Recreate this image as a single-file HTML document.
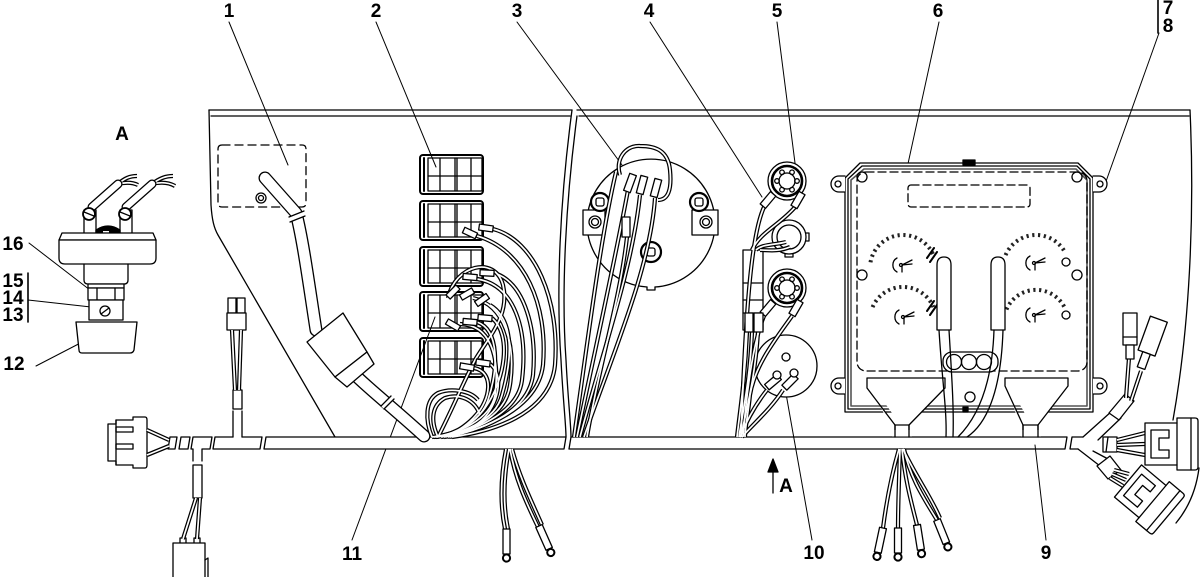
<!DOCTYPE html>
<html><head><meta charset="utf-8">
<style>
html,body{margin:0;padding:0;background:#fff}
svg{display:block}
text{font-family:"Liberation Sans",Arial,sans-serif;font-weight:bold;font-size:19px;fill:#000}
.wb{stroke:#000;stroke-width:4.2;fill:none;stroke-linecap:butt}
.ww{stroke:#fff;stroke-width:1.7;fill:none;stroke-linecap:butt}
.tb{stroke:#000;stroke-width:13;fill:none}
.tw{stroke:#fff;stroke-width:10.4;fill:none}
</style></head><body>
<svg width="1200" height="577" viewBox="0 0 1200 577" xmlns="http://www.w3.org/2000/svg">
<defs>
  <g id="wires">
    <!-- switch block fan -->
    <path d="M493,229 C535,240 560,300 555,365 C550,415 490,432 452,437"/>
    <path d="M477,236 C525,250 548,305 543,365 C538,410 480,430 448,437"/>
    <path d="M497,274 C525,285 537,330 533,375 C528,415 475,432 444,437"/>
    <path d="M477,279 C515,285 528,330 522,380 C518,415 470,432 441,437"/>
    <path d="M448,298 C455,265 495,255 503,285 C510,315 490,335 475,360 C462,385 452,410 438,437"/>
    <path d="M473,298 C505,305 516,345 510,385 C505,420 465,433 436,437"/>
    <path d="M490,305 C515,320 512,360 502,395 C495,422 460,434 434,437"/>
    <path d="M460,324 C490,325 500,355 495,395 C490,420 458,434 432,437"/>
    <path d="M477,322 C500,330 498,370 488,400 C480,424 452,434 437,437"/>
    <path d="M492,318 C512,335 505,380 485,408 C472,426 450,434 442,437"/>
    <path d="M474,368 C495,372 490,400 476,415 C466,427 452,434 446,437"/>
    <path d="M490,364 C505,375 498,405 482,420 C470,430 458,435 450,437"/>
    <path d="M432,437 C425,420 425,400 438,393 C450,388 470,390 478,400"/>
    <path d="M438,437 C430,420 432,405 445,398 C460,393 475,400 480,415"/>
    <!-- gauge 3 -->
    <path d="M620,175 C615,160 625,145 640,146 C655,146 668,150 670,170 C672,190 668,200 658,200"/>
    <path d="M616,172 C600,240 588,340 574,437"/>
    <path d="M628,190 C615,260 595,350 577,437"/>
    <path d="M640,195 C632,270 603,350 580,437"/>
    <path d="M655,198 C650,270 612,355 584,437"/>
    <path d="M627,237 C620,300 598,370 587,437"/>
    <!-- items 4/5/10 -->
    <path d="M765,205 C752,230 746,300 741,437"/>
    <path d="M796,206 C780,225 760,232 752,250"/>
    <path d="M786,242 C775,245 762,244 756,250"/>
    <path d="M790,247 C778,252 768,250 760,250"/>
    <path d="M747,332 C745,380 740,410 737,437"/>
    <path d="M752,332 C750,380 743,410 739,437"/>
    <path d="M758,332 C755,380 746,410 741,437"/>
    <path d="M764,316 C752,345 746,400 743,437"/>
    <path d="M792,316 C775,340 755,365 750,395 C748,415 745,428 745,437"/>
    <path d="M767,390 C755,405 747,420 740,437"/>
    <path d="M783,390 C770,410 752,425 742,437"/>
    <!-- bottom left probes -->
    <path d="M506,449 C500,480 500,505 505,529"/>
    <path d="M509,449 C503,480 503,505 508,529"/>
    <path d="M510,449 C515,478 525,500 538,527"/>
    <path d="M512,449 C520,478 530,498 542,525"/>
    <!-- bottom right probes -->
    <path d="M899,449 C890,480 886,505 883,528"/>
    <path d="M900,449 C899,480 898,505 898,528"/>
    <path d="M902,449 C905,480 912,505 917,525"/>
    <path d="M904,449 C910,478 925,500 937,520"/>
    <path d="M903,449 C915,475 930,495 940,518"/>
    <!-- left side -->
    <path d="M147,430 L169,440"/>
    <path d="M147,455 L169,446"/>
    <path d="M232,330 L235,390"/>
    <path d="M241,330 L239,390"/>
    <path d="M196,498 L183,539"/>
    <path d="M200,498 L197,539"/>
    <!-- right connectors -->
    <path d="M1126,398 L1129,358"/>
    <path d="M1131,401 L1141,371"/>
    <path d="M1117,440 L1145,433"/>
    <path d="M1117,445 L1145,444"/>
    <path d="M1117,450 L1145,455"/>
    <path d="M1114,470 L1129,474"/>
    <path d="M1112,474 L1126,480"/>
    <path d="M1110,478 L1123,486"/>
    <!-- detail A wires -->
    <path d="M118,184 C125,178 130,176 137,176"/>
    <path d="M118,184 C126,182 132,182 138,185"/>
    <path d="M152,184 C160,178 166,176 173,176"/>
    <path d="M152,184 C160,182 168,182 175,186"/>
  </g>
  <g id="conn">
    <path d="M0,-21 H32 V-26 H50 Q53,-26 53,-23 V23 Q53,26 50,26 H32 V21 H0 Z" fill="#fff"/>
    <path d="M32,-21 V21 M46,-26 V26"/>
    <path d="M6,-14 H24 V-6 H14 V6 H24 V14 H6 Z" fill="#fff"/>
  </g>
  <g id="probe">
    <rect x="-3.5" y="0" width="7" height="25" fill="#fff"/>
    <circle cx="0" cy="29" r="3.6" fill="#fff" stroke-width="2"/>
  </g>
  <g id="sock">
    <circle r="19" fill="#fff"/>
    <circle r="15" stroke-width="2.6"/>
    <circle r="8"/>
    <circle cx="10" cy="0" r="2.3"/><circle cx="-10" cy="0" r="2.3"/>
    <circle cx="5" cy="8.7" r="2.3"/><circle cx="-5" cy="8.7" r="2.3"/>
    <circle cx="5" cy="-8.7" r="2.3"/><circle cx="-5" cy="-8.7" r="2.3"/>
  </g>
  <g id="blk">
    <rect x="420" y="0" width="63" height="39" rx="3" stroke-width="2"/>
    <path d="M424,3 V36" stroke-width="2"/>
    <rect x="428" y="3" width="54" height="33"/>
    <path d="M440,3 V36 M455,3 V36 M457,3 V36 M471,3 V36 M428,21 H482"/>
  </g>
  <g id="needle">
    <path d="M-3,-7 A8,8 0 0 0 -3,7"/>
    <path d="M2,0 L12,-5 M2,0 L12,-1 M2,0 V7"/>
    <circle cx="1" cy="0" r="1.5"/>
  </g>
</defs>

<rect width="1200" height="577" fill="#fff"/>

<g fill="none" stroke="#000" stroke-width="1.3" stroke-linejoin="round" stroke-linecap="round">
  <!-- leaders -->
  <g stroke-width="1">
    <path d="M229,22 L288,165"/>
    <path d="M376,22 L436,167"/>
    <path d="M517,22 L622,165"/>
    <path d="M650,22 L762,197"/>
    <path d="M777,22 L795,163"/>
    <path d="M939,22 L904,182"/>
    <path d="M1159,33 L1104,187"/>
    <path d="M1158,0 V33" stroke-width="1.6"/>
    <path d="M352,540 L435,317"/>
    <path d="M812,540 L785,388"/>
    <path d="M1046,540 L1035,445"/>
    <path d="M29,243 L90,290"/>
    <path d="M28,300 L100,308"/>
    <path d="M36,366 L92,337"/>
    <path d="M28,273 V322" stroke-width="1.6"/>
  </g>

  <!-- panels -->
  <path d="M209,110 H572 M211,116 H570 M577,110 H1190 M579,116 H1189"/>
  <path d="M209,110 L211,205 C212,220 214,228 218,235 L335,437"/>
  <path d="M572,110 C560,200 556,290 561,360 C563,400 566,425 566,437"/>
  <path d="M577,116 C566,200 561,290 566,360 C568,400 571,425 571,437"/>
  <path d="M1190,110 C1195,220 1189,330 1173,420"/>
  <path d="M1199,468 Q1195,500 1176,523"/>

  <!-- trunk -->
  <path d="M215,437 H233 M242,437 H262 L260,449 H213 L215,437"/>
  <path d="M266,437 H566 L564,449 H264 Z" fill="#fff"/>
  <path d="M571,437 H1083 M569,449 H1078 M571,437 L569,449"/>
  <polygon points="1067,436 1072,436 1070,450 1065,450" fill="#fff" stroke="none"/>
  <path d="M1067,437 L1065,449 M1072,437 L1070,449"/>
  <polygon points="170,437 177,437 175,449 168,449" fill="#fff"/>
  <polygon points="181,437 190,437 188,449 179,449" fill="#fff"/>
  <path d="M193,437 H212 L210,449 H202 V461 M193,461 V449 H191 L193,437"/>
  <!-- lower-left branch -->
  <rect x="193" y="465" width="9" height="33" fill="#fff"/>
  <rect x="180" y="538" width="6" height="6" fill="#fff"/>
  <rect x="194" y="538" width="6" height="6" fill="#fff"/>
  <rect x="173" y="543" width="32" height="40" fill="#fff"/>
  <path d="M205,560 L208,558 V577"/>
  <!-- upper-left small connector -->
  <path d="M233,437 V411 M242,437 V411"/>
  <rect x="233" y="390" width="9" height="19" fill="#fff"/>
  <rect x="228" y="298" width="8" height="15" fill="#fff"/>
  <rect x="237" y="298" width="8" height="15" fill="#fff"/>
  <rect x="227" y="313" width="19" height="17" fill="#fff"/>
  <!-- left connector -->
  <path d="M116,420 H133 V417 H145 Q147,417 147,420 V465 Q147,468 145,468 H133 V465 H116 V461 H108 V424 H116 Z" fill="#fff"/>
  <rect x="116" y="427" width="17" height="5"/>
  <rect x="116" y="444" width="17" height="5"/>
  <path d="M116,420 V465"/>

  <!-- item 1 -->
  <path d="M222,145 H302 Q306,145 306,149 V203 Q306,207 302,207 H222 Q218,207 218,203 V149 Q218,145 222,145 Z" stroke-dasharray="8 5"/>
  <circle cx="261" cy="198" r="5"/><circle cx="261" cy="198" r="2.5"/>
  <path class="tb" d="M265,178 L296,213 C303,240 309,285 316,330 M352,372 C370,390 390,405 424,436" stroke-linecap="round"/>
  <path class="tw" d="M265,178 L296,213 C303,240 309,285 316,330 M352,372 C370,390 390,405 424,436" stroke-linecap="round"/>
  <polygon points="289,217 304,211 305,216 290,222" fill="#fff" stroke="none"/>
  <path d="M289,217 L304,211 M290,222 L305,216"/>
  <polygon points="381,406 391,396 394,399 384,409" fill="#fff" stroke="none"/>
  <path d="M381,406 L391,396 M384,409 L394,399"/>
  <polygon points="307,342 343,313 367,352 335,377" fill="#fff"/>
  <polygon points="335,377 367,352 374,364 347,387" fill="#fff"/>

  <!-- switch blocks -->
  <use href="#blk" transform="translate(0,155)"/>
  <use href="#blk" transform="translate(0,201)"/>
  <use href="#blk" transform="translate(0,247)"/>
  <use href="#blk" transform="translate(0,292)"/>
  <use href="#blk" transform="translate(0,338)"/>

  <!-- gauge 3 -->
  <path d="M655,287 A64,64 0 1 0 647,287" fill="#fff"/>
  <path d="M647,287 V290 H655 V287"/>
  <rect x="583" y="210" width="22" height="25" fill="#fff"/>
  <circle cx="595" cy="222" r="6"/><circle cx="595" cy="222" r="3.5"/>
  <rect x="692" y="210" width="26" height="25" fill="#fff"/>
  <circle cx="706" cy="222" r="6"/><circle cx="706" cy="222" r="3.5"/>
  <circle cx="600" cy="202" r="9" stroke-width="2.2" fill="#fff"/><rect x="596" y="198" width="8" height="8" rx="2"/>
  <circle cx="699" cy="202" r="9" stroke-width="2.2" fill="#fff"/><rect x="695" y="198" width="8" height="8" rx="2"/>
  <circle cx="651" cy="252" r="10" stroke-width="2.2" fill="#fff"/><rect x="647" y="248" width="8" height="8" rx="2"/>

  <!-- sockets 4/5 and item 10 -->
  <use href="#sock" transform="translate(787,181)"/>
  <circle cx="789" cy="237" r="17" fill="#fff"/>
  <path d="M806,233 H809 V241 H806 M785,254 V257 H793 V254"/>
  <circle cx="789" cy="237" r="12"/>
  <use href="#sock" transform="translate(787,288)"/>
  <circle cx="786" cy="366" r="31" fill="#fff"/>
  <circle cx="786" cy="357" r="4"/>
  <rect x="743" y="250" width="20" height="80" fill="#fff"/>
  <path d="M743,283 H763 M743,300 H763 M743,313 H763 M753,313 V330"/>

  <!-- instrument cluster -->
  <path d="M860,163 H1078 L1093,178 V412 H845 V178 Z" fill="#fff"/>
  <path d="M862,166 H1077 L1090,179 V409 H848 V179 Z"/>
  <path d="M864,169 H1076 L1087,180 V406 H851 V180 Z" stroke="#555" stroke-width="1.6"/>
  <rect x="963" y="160" width="12" height="5" fill="#000"/>
  <g fill="#fff">
    <path d="M845,176 H839 A8,8 0 0 0 839,192 H845"/>
    <path d="M845,378 H839 A8,8 0 0 0 839,394 H845"/>
    <path d="M1093,176 H1099 A8,8 0 0 1 1099,192 H1093"/>
    <path d="M1093,378 H1099 A8,8 0 0 1 1099,394 H1093"/>
  </g>
  <circle cx="838" cy="184" r="3"/><circle cx="838" cy="386" r="3"/>
  <circle cx="1100" cy="184" r="3"/><circle cx="1100" cy="386" r="3"/>
  <circle cx="862" cy="177" r="5"/><circle cx="1077" cy="177" r="5"/>
  <circle cx="862" cy="275" r="5"/><circle cx="1077" cy="275" r="5"/>
  <rect x="857" y="172" width="230" height="199" rx="9" stroke-dasharray="8 4"/>
  <rect x="908" y="185" width="122" height="22" rx="3" stroke-dasharray="8 4"/>
  <g stroke-width="4" stroke-dasharray="2.2 3.6" stroke-linecap="butt" stroke="#222">
    <path d="M870.5,262.3 A33,33 0 0 1 932.9,254.0"/>
    <path d="M872.6,307.1 A33,33 0 0 1 933.4,307.1"/>
    <path d="M1005.6,255.1 A33,33 0 0 1 1065.4,253.0"/>
    <path d="M1006.5,309.5 A32,32 0 0 1 1065.5,309.5"/>
  </g>
  <path d="M927,258 L934,248 M930,262 L937,252" stroke-width="2"/>
  <path d="M927,311 L934,301 M930,315 L937,305" stroke-width="2"/>
  <circle cx="1066" cy="262" r="4"/><circle cx="1066" cy="315" r="4"/>
  <use href="#needle" transform="translate(900,265)"/>
  <use href="#needle" transform="translate(1033,263)"/>
  <use href="#needle" transform="translate(902,317)"/>
  <use href="#needle" transform="translate(1033,315)"/>
  <rect x="943" y="352" width="55" height="20" rx="9" fill="#fff"/>
  <circle cx="954" cy="362" r="7.5"/><circle cx="969" cy="362" r="7.5"/><circle cx="984" cy="362" r="7.5"/>
  <!-- trapezoids -->
  <path d="M867,378 H945 V388 L909,425 V437 M867,378 V388 L895,425 V437" fill="#fff"/>
  <path d="M895,425 H909"/>
  <path d="M1005,378 H1068 V386 L1038,425 V437 M1005,378 V386 L1023,425 V437" fill="#fff"/>
  <path d="M1023,425 H1038"/>
  <rect x="892" y="430" width="20" height="6.4" fill="#fff" stroke="none"/>
  <rect x="1021" y="430" width="20" height="6.4" fill="#fff" stroke="none"/>
  <path d="M895,425 V437 M909,425 V437 M1023,425 V437 M1038,425 V437"/>
  <circle cx="970" cy="397" r="5"/><rect x="963" y="407" width="5" height="5" fill="#000"/>
  <!-- probes -->
  <path d="M937,330 V265 Q937,257 944,257 Q951,257 951,265 V330 Z" fill="#fff"/>
  <path d="M991,330 V265 Q991,257 998,257 Q1005,257 1005,265 V330 Z" fill="#fff"/>
  <path d="M939,330 C942,380 947,410 946,437 M949,330 C952,380 954,410 953,437"/>
  <path d="M994,330 C992,390 975,420 958,437 M1003,330 C1001,395 985,425 967,437"/>

  <!-- right end connectors -->
  <path d="M1083,437 L1112,411 M1098,440 L1121,418 M1078,449 L1100,466 M1093,451 L1110,460"/>
  <polygon points="1109,413 1125,394 1134,401 1119,420" fill="#fff"/>
  <rect x="1103" y="437" width="14" height="15" fill="#fff"/>
  <path d="M1108,437 L1106,452"/>
  <polygon points="1097,466 1110,456 1121,470 1108,479" fill="#fff"/>

  <!-- all double wires -->
  <use href="#wires" class="wb"/>
  <use href="#wires" class="ww"/>

  <!-- sleeves over wires: switch blocks -->
  <g fill="#fff">
    <rect x="-7" y="-3" width="14" height="6" transform="translate(470,233) rotate(25)"/>
    <rect x="-7" y="-3" width="14" height="6" transform="translate(486,228) rotate(8)"/>
    <rect x="-7" y="-3" width="14" height="6" transform="translate(470,277) rotate(5)"/>
    <rect x="-7" y="-3" width="14" height="6" transform="translate(487,273) rotate(3)"/>
    <rect x="-7" y="-3" width="14" height="6" transform="translate(453,292) rotate(-45)"/>
    <rect x="-7" y="-3" width="14" height="6" transform="translate(467,294) rotate(-30)"/>
    <rect x="-7" y="-3" width="14" height="6" transform="translate(482,300) rotate(-35)"/>
    <rect x="-7" y="-3" width="14" height="6" transform="translate(453,325) rotate(30)"/>
    <rect x="-7" y="-3" width="14" height="6" transform="translate(470,322) rotate(5)"/>
    <rect x="-7" y="-3" width="14" height="6" transform="translate(485,318) rotate(5)"/>
    <rect x="-7" y="-3" width="14" height="6" transform="translate(467,367) rotate(10)"/>
    <rect x="-7" y="-3" width="14" height="6" transform="translate(483,363) rotate(8)"/>
    <!-- gauge 3 sleeves -->
    <rect x="-3.5" y="-9" width="7" height="18" transform="translate(630,183) rotate(20)"/>
    <rect x="-3.5" y="-9" width="7" height="18" transform="translate(642,185) rotate(15)"/>
    <rect x="-3.5" y="-9" width="7" height="18" transform="translate(656,188) rotate(15)"/>
    <rect x="622" y="217" width="8" height="20"/>
    <!-- sockets sleeves -->
    <rect x="-3.5" y="-8" width="7" height="16" transform="translate(768,200) rotate(40)"/>
    <rect x="-3.5" y="-8" width="7" height="16" transform="translate(798,200) rotate(30)"/>
    <rect x="-3.5" y="-8" width="7" height="16" transform="translate(768,308) rotate(40)"/>
    <rect x="-3.5" y="-8" width="7" height="16" transform="translate(796,308) rotate(30)"/>
    <rect x="-3.5" y="-8" width="7" height="16" transform="translate(773,382) rotate(50)"/>
    <rect x="-3.5" y="-8" width="7" height="16" transform="translate(790,382) rotate(45)"/>
    <circle cx="777" cy="375" r="4"/><circle cx="794" cy="373" r="4"/>
    <rect x="745" y="313" width="8" height="19"/>
    <rect x="754" y="313" width="9" height="19"/>
  </g>

  <!-- bottom probes -->
  <use href="#probe" transform="translate(506.5,529)"/>
  <use href="#probe" transform="translate(539,526) rotate(-24)"/>
  <use href="#probe" transform="translate(883,528) rotate(12)"/>
  <use href="#probe" transform="translate(898,528)"/>
  <use href="#probe" transform="translate(917,525) rotate(-9)"/>
  <use href="#probe" transform="translate(937,520) rotate(-22)"/>

  <!-- right connectors -->
  <rect x="1123" y="313" width="14" height="32" fill="#fff"/>
  <path d="M1123,337 H1137"/>
  <rect x="1126" y="345" width="8" height="14" fill="#fff"/>
  <g transform="translate(1152,338) rotate(20)" fill="#fff">
    <rect x="-9" y="-20" width="18" height="36"/>
    <rect x="-4" y="16" width="8" height="16"/>
  </g>
  <use href="#conn" transform="translate(1145,444)"/>
  <use href="#conn" transform="translate(1128,481) rotate(40)"/>

  <!-- detail A -->
  <path class="tb" style="stroke-width:9" d="M92,207 L118,184 M126,207 L152,184"/>
  <path class="tw" style="stroke-width:6.5" d="M92,207 L118,184 M126,207 L152,184"/>
  <rect x="84" y="210" width="12" height="27" fill="#fff"/>
  <rect x="120" y="210" width="12" height="27" fill="#fff"/>
  <circle cx="89" cy="214" r="6" fill="#fff" stroke-width="1.8"/>
  <circle cx="125" cy="214" r="6" fill="#fff" stroke-width="1.8"/>
  <path d="M84,212 L94,216 M120,212 L130,216"/>
  <path d="M96,237 V230 Q108,222 120,230 V237 Z" fill="#000"/>
  <rect x="103" y="231" width="6" height="5" fill="#fff" stroke="none"/>
  <polygon points="62,233 153,233 156,240 59,240" fill="#fff"/>
  <path d="M59,240 H156 V258 Q156,264 150,264 H65 Q59,264 59,258 Z" fill="#fff"/>
  <path d="M84,264 V280 Q84,284 88,284 H124 Q128,284 128,280 V264"/>
  <rect x="88" y="284" width="36" height="4" fill="#fff"/>
  <rect x="88" y="288" width="36" height="12" fill="#fff"/>
  <path d="M97,288 V300 M115,288 V300"/>
  <rect x="89" y="300" width="34" height="20" fill="#fff"/>
  <circle cx="105" cy="311" r="5"/>
  <path d="M101,314 L109,308"/>
  <path d="M76,322 H137 L134,350 Q133,353 130,353 H82 Q79,353 79,350 Z" fill="#fff"/>

  <!-- arrow A -->
  <path d="M773,493 V470"/>
  <polygon points="768,472 773,459 778,472" fill="#000"/>
</g>

<!-- labels -->
<g text-anchor="middle">
  <text x="229" y="17">1</text>
  <text x="376" y="17">2</text>
  <text x="517" y="17">3</text>
  <text x="649" y="17">4</text>
  <text x="777" y="17">5</text>
  <text x="938" y="17">6</text>
  <text x="1168" y="14">7</text>
  <text x="1168" y="32">8</text>
  <text x="352" y="560">11</text>
  <text x="814" y="559">10</text>
  <text x="1046" y="559">9</text>
  <text x="13" y="250">16</text>
  <text x="13" y="287">15</text>
  <text x="13" y="304">14</text>
  <text x="13" y="321">13</text>
  <text x="14" y="370">12</text>
  <text x="122" y="140">A</text>
  <text x="786" y="492">A</text>
</g>
</svg>
</body></html>
